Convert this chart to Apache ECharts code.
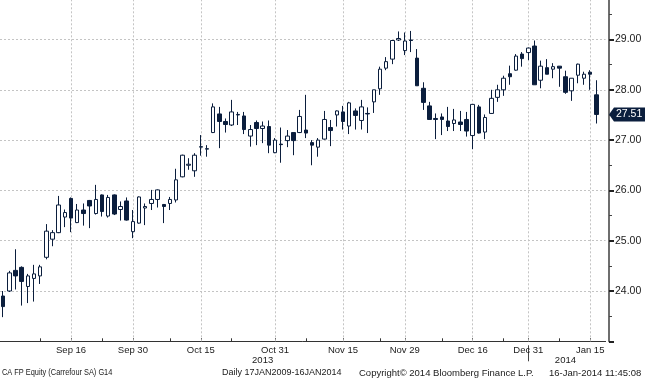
<!DOCTYPE html>
<html><head><meta charset="utf-8">
<script src="https://cdn.jsdelivr.net/npm/echarts@6/dist/echarts.min.js"></script>
<style>html,body{margin:0;padding:0;background:#fff}#c{width:645px;height:379px}</style>
</head><body><div id="c"></div>
<script>
const dates = ['2013-08-30',
 '2013-09-02','2013-09-03','2013-09-04','2013-09-05','2013-09-06','2013-09-09','2013-09-10','2013-09-11','2013-09-12','2013-09-13',
 '2013-09-16','2013-09-17','2013-09-18','2013-09-19','2013-09-20','2013-09-23','2013-09-24','2013-09-25','2013-09-26','2013-09-27','2013-09-30',
 '2013-10-01','2013-10-02','2013-10-03','2013-10-04','2013-10-07','2013-10-08','2013-10-09','2013-10-10','2013-10-11','2013-10-14',
 '2013-10-15','2013-10-16','2013-10-17','2013-10-18','2013-10-21','2013-10-22','2013-10-23','2013-10-24','2013-10-25','2013-10-28',
 '2013-10-29','2013-10-30','2013-10-31',
 '2013-11-01','2013-11-04','2013-11-05','2013-11-06','2013-11-07','2013-11-08','2013-11-11','2013-11-12','2013-11-13','2013-11-14',
 '2013-11-15','2013-11-18','2013-11-19','2013-11-20','2013-11-21','2013-11-22','2013-11-25','2013-11-26','2013-11-27','2013-11-28','2013-11-29',
 '2013-12-02','2013-12-03','2013-12-04','2013-12-05','2013-12-06','2013-12-09','2013-12-10','2013-12-11','2013-12-12','2013-12-13',
 '2013-12-16','2013-12-17','2013-12-18','2013-12-19','2013-12-20','2013-12-23','2013-12-24','2013-12-27','2013-12-30','2013-12-31',
 '2014-01-02','2014-01-03','2014-01-06','2014-01-07','2014-01-08','2014-01-09','2014-01-10','2014-01-13','2014-01-14','2014-01-15','2014-01-16'];

const openP = [23.90,24.00,24.41,24.47,24.09,24.25,24.30,24.67,25.03,25.16,
 25.47,25.84,25.36,25.61,25.80,25.54,25.91,25.49,25.91,25.62,
 25.79,25.18,25.35,25.65,25.74,25.82,25.72,25.74,25.81,26.27,
 26.50,26.39,26.86,26.82,27.15,27.52,27.37,27.30,27.50,27.48,
 27.08,27.35,27.23,27.27,26.75,26.92,26.99,27.15,27.15,27.20,
 26.95,26.86,27.02,27.25,27.50,27.56,27.28,27.58,27.39,27.53,
 27.76,28.02,28.43,28.61,28.99,28.78,28.99,28.63,28.03,27.68,
 27.43,27.46,27.38,27.33,27.36,27.41,27.09,27.66,27.16,27.53,
 27.85,28.00,28.32,28.39,28.71,28.74,28.87,28.19,28.44,28.41,
 28.47,28.26,27.98,28.29,28.23,28.35,27.90];
const closeP = [23.69,24.36,24.30,24.19,24.30,24.34,24.48,25.19,25.16,25.71,
 25.56,25.45,25.61,25.54,25.69,25.82,25.58,25.86,25.53,25.68,
 25.41,25.38,25.87,25.68,25.82,26.01,25.68,25.82,26.21,26.70,
 26.52,26.70,26.87,26.83,27.66,27.37,27.31,27.56,27.51,27.21,
 27.21,27.23,27.28,26.90,27.00,26.91,27.08,26.99,27.47,27.14,
 26.90,27.00,27.41,27.19,27.58,27.37,27.74,27.49,27.66,27.52,
 28.00,28.41,28.56,28.98,29.02,28.97,28.98,28.08,27.75,27.41,
 27.41,27.41,27.27,27.40,27.31,27.18,27.71,27.14,27.45,27.83,
 28.00,28.23,28.26,28.67,28.62,28.83,28.10,28.47,28.31,28.46,
 28.43,27.95,28.23,28.51,28.31,28.31,27.51];
const lowP = [23.48,23.98,24.03,23.71,23.76,23.79,24.14,24.63,24.89,25.15,
 25.27,25.17,25.35,25.30,25.25,25.52,25.48,25.46,25.51,25.40,
 25.40,25.05,25.34,25.31,25.61,25.66,25.35,25.61,25.76,26.26,
 26.41,26.27,26.69,26.67,27.14,26.84,27.15,27.28,27.30,27.12,
 26.87,26.90,26.94,26.74,26.74,26.55,26.86,26.70,27.14,27.04,
 26.50,26.67,27.01,26.88,27.27,27.21,27.12,27.21,27.21,27.14,
 27.54,27.90,28.39,28.51,28.97,28.69,28.75,28.08,27.60,27.41,
 27.02,27.10,27.18,27.18,27.18,27.07,26.82,27.13,27.02,27.52,
 27.76,27.88,28.10,28.38,28.46,28.59,28.10,28.03,28.31,28.23,
 28.06,27.92,27.78,28.13,28.10,28.00,27.33];
const highP = [24.00,24.40,24.83,24.49,24.34,24.52,24.52,25.33,25.21,25.89,
 25.62,25.86,25.73,25.74,25.81,26.11,25.92,25.91,25.92,25.78,
 25.86,25.61,25.88,25.74,26.01,26.02,25.73,25.87,26.43,26.71,
 26.64,26.74,27.10,26.90,27.73,27.66,27.43,27.80,27.56,27.56,
 27.30,27.39,27.37,27.39,27.04,27.25,27.20,27.15,27.60,27.90,
 27.00,27.04,27.58,27.40,27.59,27.68,27.76,27.63,27.80,27.65,
 28.00,28.46,28.65,28.98,29.16,29.14,29.17,28.81,28.15,27.76,
 27.53,27.53,27.66,27.62,27.58,27.56,27.71,27.70,27.51,28.00,
 28.10,28.28,28.48,28.71,28.75,28.84,28.98,28.58,28.61,28.53,
 28.47,28.38,28.23,28.52,28.36,28.39,28.19];

const tickDates = ['2013-09-16','2013-09-30','2013-10-15','2013-10-31','2013-11-15','2013-11-29','2013-12-16','2013-12-31','2014-01-15'];
const tickLabels = ['Sep 16','Sep 30','Oct 15','Oct 31','Nov 15','Nov 29','Dec 16','Dec 31','Jan 15'];
const minorTickDates = ['2013-09-09','2013-09-23','2013-10-08','2013-10-22','2013-11-07','2013-11-25','2013-12-09','2013-12-23','2014-01-08'];
const footerTexts = ['CA FP Equity (Carrefour SA) G14','Daily 17JAN2009-16JAN2014','Copyright\u00a9 2014 Bloomberg Finance L.P.','16-Jan-2014 11:45:08'];

const NAVY = '#0b1e3d';
const FONT = '"Liberation Sans", Arial, sans-serif';
const xData = dates.concat(['']);

// year spans
const years = {};
dates.forEach((d, i) => { const y = d.slice(0, 4); if (!years[y]) years[y] = [i, i]; years[y][1] = i; });
const yearLabelIdx = Object.values(years).map(r => Math.floor((r[0] + r[1]) / 2));
const yearBreakIdx = Object.values(years)[0][1];

const chart = echarts.init(document.getElementById('c'), null, {renderer: 'canvas'});
const option = {
  animation: false,
  backgroundColor: '#ffffff',
  grid: {left: 0, right: 39.4, top: -10.8, bottom: 37.7, containLabel: false, outerBoundsMode: 'none'},
  xAxis: [{
    type: 'category', data: xData, boundaryGap: true,
    axisLine: {show: true, lineStyle: {color: '#333', width: 1}},
    axisTick: {show: true, inside: true, length: 3, alignWithLabel: true,
      interval: (i, v) => tickDates.includes(v) || minorTickDates.includes(v),
      lineStyle: {color: '#333'}},
    axisLabel: {interval: (i, v) => tickDates.includes(v),
      formatter: v => tickLabels[tickDates.indexOf(v)] || '',
      color: '#1a1a1a', fontFamily: FONT, fontSize: 9.5, margin: 4},
    splitLine: {show: false}
  }, {
    type: 'category', data: xData, boundaryGap: true, position: 'bottom', offset: 4,
    axisLine: {show: false},
    axisTick: {show: true, alignWithLabel: true, length: 16, interval: (i) => i === yearBreakIdx,
      lineStyle: {color: '#444'}},
    axisLabel: {interval: (i) => yearLabelIdx.includes(i), formatter: v => v.slice(0, 4),
      color: '#1a1a1a', fontFamily: FONT, fontSize: 9.5, margin: 10},
    splitLine: {show: false}
  }],
  yAxis: {
    type: 'value', position: 'right', offset: 3.4, min: 23, max: 30, interval: 1, scale: true,
    axisLine: {show: true, lineStyle: {color: '#6e6e6e', width: 2}},
    axisTick: {show: true, length: 5, lineStyle: {color: '#222', width: 2}},
    minorTick: {show: true, splitNumber: 2, length: 3, lineStyle: {color: '#444', width: 1}},
    axisLabel: {formatter: v => v.toFixed(2), color: '#1a1a1a', fontFamily: FONT, fontSize: 10.5, margin: 6,
      showMinLabel: false, showMaxLabel: false},
    splitLine: {show: true, lineStyle: {color: '#c4c4c4', width: 1, type: [2, 2]}}
  },
  series: [{
    type: 'candlestick',
    data: dates.map((d, i) => [openP[i], closeP[i], lowP[i], highP[i]]),
    barWidth: 4,
    itemStyle: {color: '#ffffff', color0: NAVY, borderColor: NAVY, borderColor0: NAVY, borderColorDoji: NAVY, borderWidth: 1},
    markLine: {
      silent: true, symbol: ['none', 'none'], animation: false,
      label: {show: false},
      lineStyle: {color: '#c4c4c4', width: 1, type: [2, 2]},
      emphasis: {disabled: true},
      data: tickDates.map(d => ({xAxis: d}))
    },
    z: 5
  }]
};
chart.setOption(option);

const lastClose = closeP[closeP.length - 1];
const py = chart.convertToPixel({yAxisIndex: 0}, lastClose);
const ax = 609;
chart.setOption({
  graphic: [
    {type: 'polygon', shape: {points: [[ax, py], [ax + 5, py - 7], [645, py - 7], [645, py + 7], [ax + 5, py + 7]]},
      style: {fill: NAVY}, z: 100},
    {type: 'text', x: ax + 7, y: py, style: {text: lastClose.toFixed(2), fill: '#ffffff', font: '10.5px ' + FONT, verticalAlign: 'middle', align: 'left'}, z: 101},
    {type: 'text', x: 2, y: 373, scaleX: 0.82, style: {text: footerTexts[0], fill: '#1a1a1a', font: '9px ' + FONT, verticalAlign: 'middle'}},
    {type: 'text', x: 222, y: 373, style: {text: footerTexts[1], fill: '#1a1a1a', font: '9px ' + FONT, verticalAlign: 'middle'}},
    {type: 'text', x: 359, y: 373, style: {text: footerTexts[2], fill: '#1a1a1a', font: '9.5px ' + FONT, verticalAlign: 'middle'}},
    {type: 'text', x: 549, y: 373, style: {text: footerTexts[3], fill: '#1a1a1a', font: '9.5px ' + FONT, verticalAlign: 'middle'}}
  ]
});
</script></body></html>
